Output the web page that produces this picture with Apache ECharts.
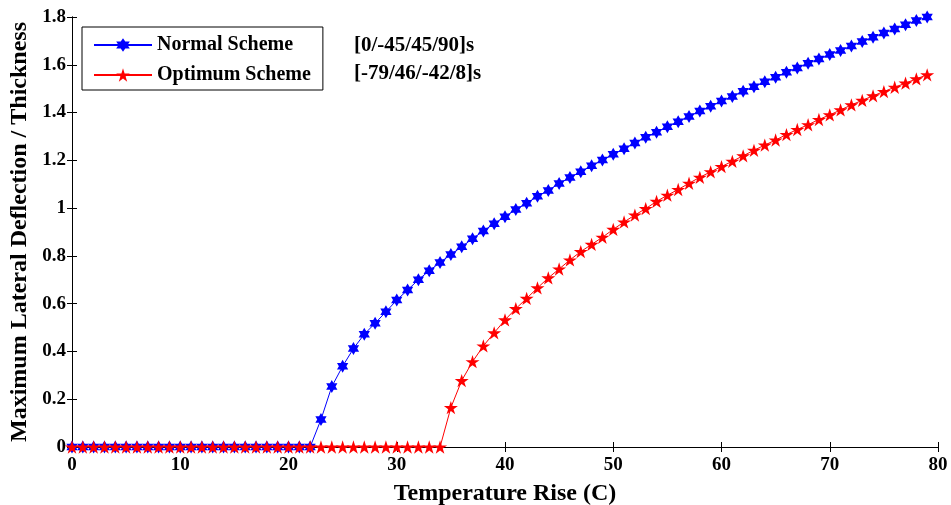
<!DOCTYPE html>
<html>
<head>
<meta charset="utf-8">
<script src="https://cdn.jsdelivr.net/npm/echarts@6/dist/echarts.min.js"></script>
<style>html,body{margin:0;padding:0;background:#fff;}#c{width:951px;height:505px;}</style>
</head>
<body>
<div id="c"></div>
<script>
// Temperature rise values (C)
const temperature = Array.from({length: 80}, (_, i) => i);
// Normal scheme [0/-45/45/90]s
const normalScheme = [
  0,0,0,0,0,0,0,0,0,0, 0,0,0,0,0,0,0,0,0,0, 0,0,0,
  0.115,0.253,0.338,0.412,0.472,0.518,0.566,0.615,0.657,0.700,
  0.738,0.772,0.806,0.838,0.872,0.904,0.935,0.964,0.994,1.020,
  1.050,1.074,1.103,1.128,1.152,1.177,1.201,1.225,1.248,1.273,
  1.297,1.318,1.341,1.362,1.384,1.406,1.426,1.448,1.467,1.489,
  1.508,1.529,1.548,1.569,1.587,1.606,1.624,1.643,1.660,1.679,
  1.697,1.715,1.733,1.750,1.768,1.785,1.800
];
// Optimum scheme [-79/46/-42/8]s
const optimumScheme = [
  0,0,0,0,0,0,0,0,0,0, 0,0,0,0,0,0,0,0,0,0, 0,0,0,0,0,0,0,0,0,0, 0,0,0,0,0,
  0.165,0.278,0.357,0.423,0.478,0.532,0.579,0.622,0.666,0.708,
  0.745,0.783,0.818,0.848,0.878,0.911,0.942,0.971,0.998,1.028,
  1.054,1.078,1.104,1.129,1.152,1.174,1.196,1.219,1.242,1.264,
  1.285,1.308,1.329,1.349,1.371,1.390,1.411,1.432,1.451,1.470,
  1.488,1.506,1.523,1.541,1.558
];
const seriesNames = ['Normal Scheme', 'Optimum Scheme'];
const layupLabels = ['[0/-45/45/90]s', '[-79/46/-42/8]s'];

const hexagram = 'path://M0,-10L2.887,-5L8.66,-5L5.77,0L8.66,5L2.887,5L0,10L-2.887,5L-8.66,5L-5.77,0L-8.66,-5L-2.887,-5Z';
const star5 = 'path://M0,-10L2.245,-3.09L9.511,-3.09L3.633,1.18L5.878,8.09L0,3.82L-5.878,8.09L-3.633,1.18L-9.511,-3.09L-2.245,-3.09Z';

const FONT = '"Liberation Serif","Times New Roman",serif';
const chart = echarts.init(document.getElementById('c'), null, {renderer: 'canvas'});
const axisCommon = {
  axisLine: {show: true, lineStyle: {color: '#000', width: 1}},
  axisTick: {show: true, inside: true, length: 5, lineStyle: {color: '#000'}},
  splitLine: {show: false}
};
chart.setOption({
  backgroundColor: '#fff',
  animation: false,
  grid: {left: 72, right: 13, top: 17, bottom: 58, containLabel: false, outerBoundsMode: 'none'},
  legend: {
    orient: 'vertical', left: 82, top: 27,
    backgroundColor: '#fff', borderColor: '#000', borderWidth: 1,
    padding: [8, 12, 5, 11], itemGap: 10, itemWidth: 58, itemHeight: 17,
    textStyle: {fontFamily: FONT, fontWeight: 'bold', fontSize: 20, color: '#000'},
    data: seriesNames
  },
  xAxis: [
    Object.assign({type: 'value', min: 0, max: 80, interval: 10, position: 'bottom',
      name: 'Temperature Rise (C)', nameLocation: 'middle', nameGap: 35,
      nameTextStyle: {fontFamily: FONT, fontWeight: 'bold', fontSize: 24, color: '#000'},
      axisLabel: {fontFamily: FONT, fontWeight: 'bold', fontSize: 19, color: '#000', margin: 9}}, axisCommon),
    Object.assign({type: 'value', min: 0, max: 80, interval: 10, position: 'top',
      axisLabel: {show: false}}, axisCommon)
  ],
  yAxis: [
    Object.assign({type: 'value', min: 0, max: 1.8, interval: 0.2, position: 'left',
      name: 'Maximum Lateral Deflection / Thickness', nameLocation: 'middle', nameGap: 39,
      nameTextStyle: {fontFamily: FONT, fontWeight: 'bold', fontSize: 24, color: '#000'},
      axisLabel: {fontFamily: FONT, fontWeight: 'bold', fontSize: 19, color: '#000', margin: 6,
        formatter: v => String(+v.toFixed(1))}}, axisCommon),
    Object.assign({type: 'value', min: 0, max: 1.8, interval: 0.2, position: 'right',
      axisLabel: {show: false}}, axisCommon)
  ],
  graphic: [
    {type: 'text', left: 354, top: 35, style: {text: layupLabels[0], fontFamily: FONT, fontWeight: 'bold', fontSize: 21, fill: '#000'}},
    {type: 'text', left: 354, top: 63, style: {text: layupLabels[1], fontFamily: FONT, fontWeight: 'bold', fontSize: 21, fill: '#000'}}
  ],
  series: [
    {
      name: seriesNames[0], type: 'line',
      data: temperature.map((t, i) => [t, normalScheme[i]]),
      symbol: hexagram, symbolSize: 13, symbolKeepAspect: true,
      lineStyle: {color: '#0000ff', width: 1},
      itemStyle: {color: '#0000ff'},
      showAllSymbol: true
    },
    {
      name: seriesNames[1], type: 'line',
      data: temperature.map((t, i) => [t, optimumScheme[i]]),
      symbol: star5, symbolSize: 14, symbolKeepAspect: true,
      lineStyle: {color: '#ff0000', width: 1},
      itemStyle: {color: '#ff0000'},
      showAllSymbol: true
    }
  ]
});
</script>
</body>
</html>
